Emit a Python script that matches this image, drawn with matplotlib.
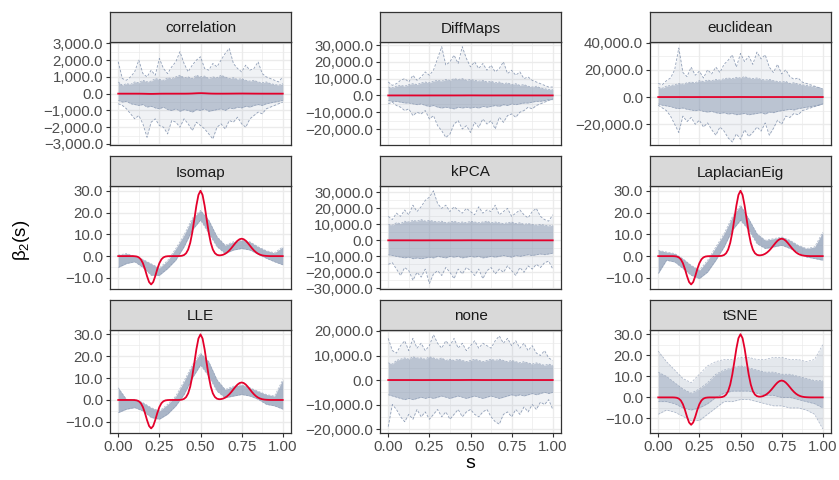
import numpy as np
import matplotlib
matplotlib.use("Agg")
import matplotlib.pyplot as plt
from matplotlib.ticker import FuncFormatter, FixedLocator

plt.rcParams["font.family"] = ["Liberation Sans", "DejaVu Sans"]
plt.rcParams["mathtext.fontset"] = "custom"
plt.rcParams["mathtext.rm"] = "Liberation Sans"
plt.rcParams["mathtext.it"] = "Liberation Sans"

# ---------------- data ----------------
# true beta_2(s), red curve (s step 0.0125)
s_true = np.linspace(0, 1, 81)
beta_true = [0, 0, 0, 0, 0, 0, 0, 0,
             -0.05, -0.18, -0.57, -1.48, -3.25, -5.95, -9.2, -11.9, -13.0,
             -11.9, -9.2, -5.95, -3.25, -1.48, -0.57, -0.18, -0.05,
             0, 0, 0, 0, 0,
             0.05, 0.17, 0.51, 1.32, 3.02, 6.09, 10.8, 16.9, 23.2, 28.1, 30.0,
             28.1, 23.2, 16.9, 10.8, 6.09, 3.02, 1.36, 0.60, 0.35, 0.40,
             0.64, 1.08, 1.73, 2.6, 3.66, 4.85, 6.04, 7.06, 7.75, 8.0,
             7.75, 7.06, 6.04, 4.85, 3.66, 2.6, 1.73, 1.08, 0.64, 0.35,
             0.18, 0.09, 0.04, 0, 0, 0, 0, 0, 0, 0]

# grids for the estimated curves
s_fine = np.linspace(0, 1, 41)   # step 0.025, noisy panels
s_band = np.linspace(0, 1, 21)   # step 0.05, smooth panels

# correlation
corr_hi = [1900, 900, 800, 1000, 1300, 2000, 1200, 1000, 1400, 1100, 2100, 1500, 1200, 1600,
           1900, 2500, 1800, 1300, 1700, 2000, 2200, 1500, 1400, 1800, 1600, 2000, 2400, 2700,
           1800, 1500, 1300, 1700, 1400, 1500, 1900, 1200, 1000, 900, 800, 700, 1000]
corr_lo = [-600, -700, -900, -1200, -1500, -1300, -1800, -2600, -1700, -1500, -1900, -2000,
           -2400, -1600, -1700, -2000, -1500, -1800, -2200, -1700, -1900, -2100, -2400, -2700,
           -2000, -1800, -2100, -1600, -1700, -1400, -1800, -2000, -1500, -1300, -1100, -1200,
           -900, -800, -700, -600, -500]
corr_core_hi = [700, 500, 600, 550, 700, 650, 800, 700, 750, 900, 850, 800, 950, 900, 1000,
                1100, 950, 1000, 900, 1100, 1000, 1050, 900, 1000, 950, 1100, 1000, 900, 950,
                850, 900, 800, 750, 800, 700, 650, 700, 600, 550, 500, 600]
corr_core_lo = [-400, -500, -450, -600, -650, -700, -650, -800, -750, -850, -900, -800, -950,
                -1000, -900, -1050, -950, -1000, -1100, -950, -1000, -900, -1050, -1000, -950,
                -900, -1000, -850, -900, -800, -850, -750, -800, -700, -650, -700, -600, -550,
                -500, -450, -400]

# DiffMaps
diff_hi = [8000, 6000, 7000, 9000, 10000, 8000, 12000, 9000, 11000, 14000, 12000, 15000, 22000,
           29000, 18000, 20000, 24000, 19000, 29000, 22000, 17000, 20000, 16000, 19000, 15000,
           18000, 14000, 16000, 20000, 13000, 15000, 12000, 14000, 10000, 11000, 9000, 8000,
           7000, 6000, 5000, 5000]
diff_lo = [-5000, -4000, -6000, -7000, -9000, -8000, -12000, -10000, -11000, -9000, -14000,
           -12000, -18000, -21000, -25000, -23000, -17000, -15000, -20000, -18000, -22000,
           -16000, -19000, -14000, -17000, -15000, -20000, -13000, -16000, -12000, -11000,
           -13000, -10000, -9000, -7000, -8000, -6000, -5000, -4000, -3000, -2000]
diff_core_hi = [5000, 4500, 5500, 6000, 5500, 6500, 7000, 6500, 7500, 8000, 7500, 8500, 9000,
                8500, 9500, 9000, 10000, 9500, 10000, 9000, 9500, 9000, 8500, 9000, 8000, 8500,
                7500, 8000, 7000, 7500, 6500, 7000, 6000, 6500, 5500, 5000, 5500, 4500, 4000,
                3500, 3500]
diff_core_lo = [-3000, -3500, -3500, -4000, -4500, -4500, -5000, -5500, -5000, -6000, -6500,
                -6000, -7000, -7500, -7000, -7500, -8000, -7000, -7500, -7000, -7500, -7000,
                -7500, -6500, -7000, -6500, -6000, -6500, -5500, -6000, -5000, -5500, -5000,
                -4500, -4500, -4000, -3500, -3500, -3000, -2500, -2500]

# euclidean
euc_hi = [10000, 9000, 12000, 14000, 20000, 36000, 18000, 15000, 22000, 16000, 19000, 14000,
          20000, 17000, 22000, 18000, 24000, 27000, 31000, 22000, 32000, 26000, 30000, 24000,
          33000, 28000, 31000, 22000, 18000, 24000, 17000, 20000, 15000, 13000, 14000, 11000,
          10000, 9000, 8000, 7000, 6000]
euc_lo = [-6000, -8000, -10000, -14000, -20000, -26000, -14000, -18000, -15000, -20000, -17000,
          -22000, -19000, -24000, -28000, -22000, -25000, -30000, -33000, -27000, -31000,
          -24000, -29000, -26000, -22000, -25000, -19000, -28000, -23000, -17000, -20000,
          -14000, -15000, -12000, -13000, -10000, -9000, -8000, -7000, -6000, -5000]
euc_core_hi = [7000, 6500, 8000, 8500, 9000, 10000, 9500, 10500, 11000, 10500, 12000, 11500,
               12500, 12000, 13000, 12500, 13500, 14000, 13500, 14500, 14000, 15000, 14000,
               13500, 14000, 13000, 12500, 13000, 12000, 11500, 11000, 11500, 10000, 10500,
               9500, 9000, 8500, 8000, 7500, 7000, 6000]
euc_core_lo = [-5000, -6000, -6500, -7000, -8000, -8500, -8000, -9000, -9500, -10000, -9500,
               -10500, -11000, -10500, -11500, -12000, -11500, -12500, -12000, -13000, -12500,
               -12000, -13000, -12500, -12000, -11500, -12500, -11000, -11500, -10500, -10000,
               -9500, -9000, -9500, -8500, -8000, -7500, -7000, -6500, -6000, -5000]

# kPCA
kpca_hi = [15000, 13000, 17000, 15000, 19000, 16000, 22000, 18000, 21000, 25000, 27000, 31000,
           23000, 20000, 22000, 18000, 21000, 19000, 17000, 20000, 18000, 16000, 21000, 17000,
           19000, 18000, 22000, 16000, 18000, 20000, 15000, 17000, 19000, 16000, 14000, 18000,
           20000, 15000, 13000, 12000, 16000]
kpca_lo = [-15000, -14000, -18000, -22000, -17000, -19000, -25000, -20000, -23000, -18000,
           -27000, -21000, -19000, -22000, -17000, -20000, -24000, -18000, -21000, -17000,
           -19000, -22000, -18000, -24000, -19000, -17000, -21000, -18000, -20000, -16000,
           -19000, -22000, -17000, -20000, -16000, -18000, -15000, -17000, -14000, -13000, -18000]
kpca_core_hi = [10000, 9500, 11000, 10500, 12000, 11500, 12500, 12000, 13000, 12000, 12500,
                12000, 11500, 12000, 11000, 11500, 12000, 11000, 11500, 11000, 12000, 11500,
                11000, 11500, 12000, 11000, 11500, 11000, 10500, 11000, 11500, 10500, 11000,
                10000, 10500, 10000, 9500, 10000, 9500, 9000, 9500]
kpca_core_lo = [-9000, -9500, -10000, -10500, -11000, -10500, -11500, -11000, -11500, -11000,
                -10500, -11000, -10000, -10500, -11000, -10000, -10500, -10000, -11000, -10500,
                -10000, -10500, -10000, -11000, -10500, -10000, -10500, -10000, -9500, -10000,
                -10500, -9500, -10000, -9500, -9000, -9500, -9000, -8500, -9000, -8500, -8000]

# none
none_hi = [17000, 12000, 11000, 14000, 16000, 12000, 17000, 13000, 15000, 12000, 14000, 18500,
           15000, 13000, 16000, 14000, 17000, 13000, 15000, 12000, 14000, 16000, 13000, 15000,
           14000, 13000, 16000, 18000, 15000, 17000, 14000, 16000, 13000, 15000, 12000, 14000,
           11000, 10000, 12000, 9000, 8000]
none_lo = [-19000, -10000, -12000, -15000, -17000, -14000, -16000, -12000, -15000, -13000,
           -16000, -14000, -12000, -15000, -13000, -16000, -14000, -12000, -15000, -13000,
           -12000, -14000, -15000, -13000, -12000, -15000, -17000, -18000, -14000, -13000,
           -15000, -12000, -14000, -11000, -13000, -10000, -12000, -9000, -10000, -8000, -12000]
none_core_hi = [7000, 6500, 8000, 8500, 9000, 8500, 9500, 9000, 9000, 8500, 9500, 9000, 8500,
                9000, 8000, 8500, 8000, 8500, 8000, 7500, 8000, 8500, 8000, 7500, 8000, 8500,
                8000, 8500, 8000, 7500, 8000, 7500, 7000, 7500, 7000, 6500, 7000, 6500, 6000,
                6500, 6000]
none_core_lo = [-6000, -6500, -7000, -7500, -8000, -7500, -8000, -7500, -7000, -7500, -7000,
                -7500, -7000, -6500, -7000, -7500, -7000, -6500, -7000, -7500, -7000, -6500,
                -7000, -7500, -7000, -6500, -7000, -7500, -7000, -6500, -6000, -6500, -6000,
                -6500, -6000, -5500, -6000, -5500, -5000, -5500, -5000]

# Isomap, LaplacianEig, LLE: band of the estimates
iso_hi = [0.5, 1.2, 0.0, -1.5, -3.5, -5.5, -2.0, 3.5, 9.7, 17.4, 21.0, 16.6, 9.0, 5.0, 6.6,
          7.4, 6.6, 4.3, 2.5, 1.5, 4.3]
iso_lo = [-5.2, -3.4, -2.6, -5.2, -8.8, -8.8, -5.7, -1.8, 4.3, 12.0, 16.6, 10.5, 4.3, 1.2, 2.8,
          3.5, 2.8, 0.9, -1.0, -2.6, -4.0]
lap_hi = [2.7, 1.9, 1.2, -1.2, -4.2, -6.5, -1.9, 4.2, 10.3, 18.0, 23.4, 17.2, 10.3, 7.3, 8.0,
          8.8, 7.3, 5.0, 3.5, 4.2, 11.0]
lap_lo = [-8.0, -1.9, -2.7, -5.7, -8.8, -10.3, -7.3, -1.9, 4.2, 11.9, 16.5, 11.9, 5.7, 3.5, 4.2,
          5.0, 3.5, 1.9, -0.4, -1.1, -1.9]
lle_hi = [5.6, 0.3, 0.3, -1.2, -3.5, -5.0, -2.0, 1.8, 8.6, 16.0, 21.4, 17.6, 9.3, 4.8, 6.3,
          7.0, 5.6, 4.0, 2.5, 1.8, 9.3]
lle_lo = [-5.8, -4.2, -3.5, -5.0, -8.0, -8.8, -6.5, -2.7, 2.5, 10.0, 16.0, 10.8, 4.0, 1.0, 1.8,
          2.5, 1.8, 0.3, -2.0, -2.7, -4.2]

# tSNE: wide cloud
tsne_hi = [22, 17, 13, 9, 7, 11, 15, 17, 18, 18, 19, 19, 18, 18, 19, 19, 18, 18, 17, 18, 25]
tsne_lo = [-8, -6, -7, -9, -11, -11, -8, -5, -2, -2, -1, -1, -2, -3, -4, -4, -5, -5, -6, -8, -15]
tsne_core_hi = [12, 10, 7, 4, 2, 4, 7, 11, 13, 14, 15, 14, 13, 12, 12, 11, 11, 10, 9, 8, 8]
tsne_core_lo = [-2, -2, -3, -5, -6, -5, -3, 0, 2, 3, 3, 3, 2, 1, 1, 0, 0, -1, -2, -3, -5]

panel_names = ["correlation", "DiffMaps", "euclidean", "Isomap", "kPCA",
               "LaplacianEig", "LLE", "none", "tSNE"]
x_ticks = [0.0, 0.25, 0.5, 0.75, 1.0]

# ---------------- drawing ----------------
GRAY = "#8797B1"
RED = "#E4002B"

fig = plt.figure(figsize=(8.39, 4.8), dpi=100)
W, H = 839.0, 480.0
col_left = [110, 380, 650]
row_top = [42, 186, 330]
pw, ph, sh = 181, 103, 30


def fmt(v, pos):
    return f"{v:,.1f}".replace("-", "\u2212")


def noisy(ax, hi, lo, core_hi, core_lo):
    ax.fill_between(s_fine, lo, hi, color=GRAY, alpha=0.12, lw=0)
    ax.fill_between(s_fine, core_lo, core_hi, color=GRAY, alpha=0.5, lw=0)
    ax.plot(s_fine, hi, color=GRAY, lw=0.6, ls=(0, (3, 2)), alpha=0.9)
    ax.plot(s_fine, lo, color=GRAY, lw=0.6, ls=(0, (3, 2)), alpha=0.9)
    ax.plot(s_fine, core_hi, color=GRAY, lw=0.5, ls=(0, (3, 2)), alpha=0.8)
    ax.plot(s_fine, core_lo, color=GRAY, lw=0.5, ls=(0, (3, 2)), alpha=0.8)


def band(ax, s, hi, lo, a=0.7):
    ax.fill_between(s, lo, hi, color=GRAY, alpha=a, lw=0)
    ax.plot(s, hi, color=GRAY, lw=0.5, ls=(0, (3, 2)), alpha=0.7)
    ax.plot(s, lo, color=GRAY, lw=0.5, ls=(0, (3, 2)), alpha=0.7)


ylims = [(-3060, 3080), (-29500, 31800), (-35200, 40400),
         (-15.1, 32.2), (-30450, 34000), (-15.1, 32.2),
         (-15.1, 32.0), (-21600, 20400), (-16.9, 32.0)]
ystep = [1000, 10000, 20000, 10, 10000, 10, 10, 10000, 10]

for i, name in enumerate(panel_names):
    r, c = divmod(i, 3)
    l = col_left[c] / W
    b = 1 - (row_top[r] + ph) / H
    ax = fig.add_axes([l, b, pw / W, ph / H])
    sax = fig.add_axes([l, 1 - row_top[r] / H, pw / W, sh / H])

    if name == "correlation":
        noisy(ax, corr_hi, corr_lo, corr_core_hi, corr_core_lo)
    elif name == "DiffMaps":
        noisy(ax, diff_hi, diff_lo, diff_core_hi, diff_core_lo)
    elif name == "euclidean":
        noisy(ax, euc_hi, euc_lo, euc_core_hi, euc_core_lo)
    elif name == "kPCA":
        noisy(ax, kpca_hi, kpca_lo, kpca_core_hi, kpca_core_lo)
    elif name == "none":
        noisy(ax, none_hi, none_lo, none_core_hi, none_core_lo)
    elif name == "Isomap":
        band(ax, s_band, iso_hi, iso_lo)
    elif name == "LaplacianEig":
        band(ax, s_band, lap_hi, lap_lo)
    elif name == "LLE":
        band(ax, s_band, lle_hi, lle_lo)
    elif name == "tSNE":
        band(ax, s_band, tsne_hi, tsne_lo, a=0.22)
        band(ax, s_band, tsne_core_hi, tsne_core_lo, a=0.4)

    ax.plot(s_true, beta_true, color=RED, lw=1.3, zorder=5)

    lo_, hi_ = ylims[i]
    st = ystep[i]
    ax.set_xlim(-0.05, 1.05)
    ax.set_ylim(lo_, hi_)
    yt = np.arange(np.ceil(lo_ / st) * st, hi_ + 1e-9, st)
    ax.yaxis.set_major_locator(FixedLocator(yt))
    ax.yaxis.set_minor_locator(FixedLocator(np.arange(yt[0] - st / 2, hi_, st)))
    ax.xaxis.set_major_locator(FixedLocator(x_ticks))
    ax.xaxis.set_minor_locator(FixedLocator([0.125, 0.375, 0.625, 0.875]))
    ax.yaxis.set_major_formatter(FuncFormatter(fmt))
    ax.grid(True, which="major", color="#EBEBEB", lw=1.0, zorder=0)
    ax.grid(True, which="minor", color="#EBEBEB", lw=0.5, zorder=0)
    ax.set_axisbelow(True)
    for sp in ax.spines.values():
        sp.set_color("#333333")
        sp.set_linewidth(0.9)
    ax.tick_params(which="major", length=3, width=0.8, color="#333333",
                   labelsize=10.8, labelcolor="#4D4D4D", pad=2)
    ax.tick_params(which="minor", length=0)
    if r < 2:
        ax.tick_params(axis="x", which="major", length=0, labelbottom=False)
    else:
        ax.xaxis.set_major_formatter(FuncFormatter(lambda v, p: f"{v:.2f}"))

    sax.set_facecolor("#D9D9D9")
    sax.set_xticks([])
    sax.set_yticks([])
    for sp in sax.spines.values():
        sp.set_color("#333333")
        sp.set_linewidth(0.9)
    sax.text(0.5, 0.45, name, ha="center", va="center", fontsize=11,
             color="#1A1A1A", transform=sax.transAxes)

fig.text(470 / W, 1 - 463 / H, "s", ha="center", va="center", fontsize=14)
fig.text(22 / W, 1 - 240 / H, r"$\beta_2(s)$", ha="center", va="center",
         fontsize=13.5, rotation=90)

fig.savefig("out.png", dpi=100)
